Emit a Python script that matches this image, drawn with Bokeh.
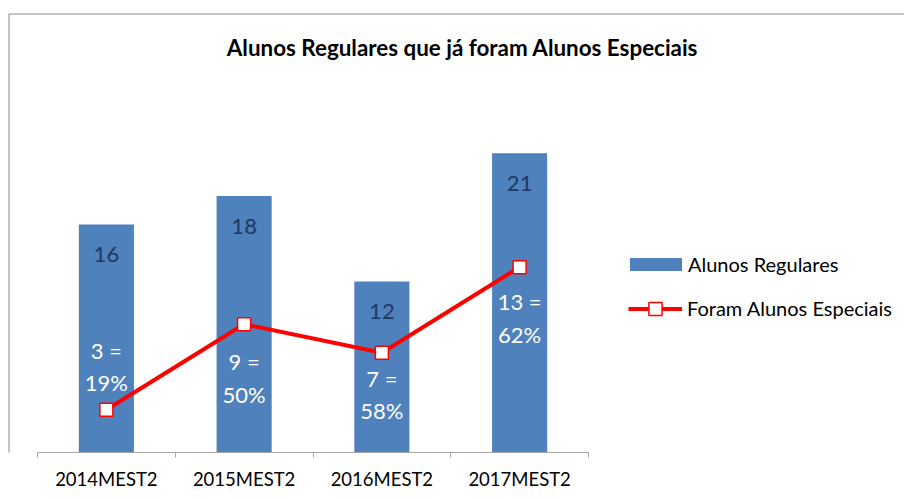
from bokeh.plotting import figure
from bokeh.models import Range1d, FixedTicker, Legend, LegendItem, ColumnDataSource
from bokeh.core.properties import value
from bokeh.embed import file_html
from bokeh.resources import INLINE

# ---------------- data ----------------
categories = ["2014MEST2", "2015MEST2", "2016MEST2", "2017MEST2"]
regulares = [16, 18, 12, 21]
especiais = [3, 9, 7, 13]
title_text = "Alunos Regulares que já foram Alunos Especiais"
legend_labels = ["Alunos Regulares", "Foram Alunos Especiais"]

# ---------------- layout / style ----------------
W, H = 904, 500
AX_L, AX_R = 37, 588        # px span of the category axis
BASE = 452                   # px of value 0
PX_PER_UNIT = 14.25
FONT = "Lato"
BAR_COLOR = "#4F81BD"
LINE_COLOR = "#FF0000"
NAVY = "#1F3864"
GRID_GRAY = "#A6A6A6"
BORDER_GRAY = "#8A8A8A"

n = len(categories)
px_per_cat = (AX_R - AX_L) / n
x_start = -AX_L / px_per_cat
x_end = n + (W - AX_R) / px_per_cat
y_start = 0
y_end = BASE / PX_PER_UNIT


def px_to_x(px):
    return x_start + px / px_per_cat


def px_to_y(py):
    return (BASE - py) / PX_PER_UNIT


xs = [i + 0.5 for i in range(n)]
pct = [round(100 * e / r) for e, r in zip(especiais, regulares)]

# label offsets (screen px, +down) relative to each line point
line1_off = [-59, 37, 26, 34]
line2_off = [-27, 70, 58, 67]

src = ColumnDataSource(dict(
    x=xs,
    reg=regulares,
    esp=especiais,
    reg_txt=[str(v) for v in regulares],
    l1=[f"{e} =" for e in especiais],
    l2=[f"{p}%" for p in pct],
    o1=line1_off,
    o2=line2_off,
))

p = figure(width=W, height=H, output_backend="svg", toolbar_location=None,
           x_range=Range1d(x_start, x_end), y_range=Range1d(y_start, y_end),
           y_axis_location=None, min_border_left=0, min_border_right=0,
           min_border_top=0, min_border_bottom=H - BASE,
           outline_line_color=None, background_fill_color="white",
           border_fill_color="white")
p.grid.visible = False

# axis
ax = p.xaxis[0]
ax.ticker = FixedTicker(ticks=xs, minor_ticks=list(range(n + 1)))
ax.major_label_overrides = {x: c for x, c in zip(xs, categories)}
ax.bounds = (0, n)
ax.axis_line_color = GRID_GRAY
ax.axis_line_width = 1
ax.major_tick_line_color = None
ax.major_tick_out = 0
ax.major_tick_in = 0
ax.minor_tick_line_color = GRID_GRAY
ax.minor_tick_in = 0
ax.minor_tick_out = 5
ax.major_label_standoff = 10
ax.major_label_text_font = FONT
ax.major_label_text_font_size = "18.5px"
ax.major_label_text_color = "#000000"

# chart border (left + top)
bx = px_to_x(8.5)
by = px_to_y(13.5)
p.segment(x0=[bx, bx], y0=[by, by], x1=[bx, x_end], y1=[y_start - 1, by],
          line_color=BORDER_GRAY, line_width=1)

# title
p.text(x=[px_to_x(462)], y=[px_to_y(47)], text=[title_text],
       text_align="center", text_baseline="middle",
       text_font=value(FONT), text_font_style="bold",
       text_font_size="22.4px", text_color="#000000")

# bars
bars = p.vbar(x="x", top="reg", width=0.4, bottom=0, source=src,
              fill_color=BAR_COLOR, line_color=None)

p.text(x="x", y="reg", text="reg_txt", source=src, y_offset=30,
       text_align="center", text_baseline="middle",
       text_font=value(FONT), text_font_size="22px", text_color=NAVY)

# line + markers
ln = p.line(x="x", y="esp", source=src, line_color=LINE_COLOR, line_width=4)
mk = p.scatter(x="x", y="esp", source=src, marker="square", size=13,
               fill_color="white", line_color=LINE_COLOR, line_width=1.5)

p.text(x="x", y="esp", text="l1", source=src, y_offset="o1",
       text_align="center", text_baseline="middle",
       text_font=value(FONT), text_font_size="22px", text_color="white")
p.text(x="x", y="esp", text="l2", source=src, y_offset="o2",
       text_align="center", text_baseline="middle",
       text_font=value(FONT), text_font_size="22px", text_color="white")

legend_style = dict(padding=0, margin=0, label_height=20,
                    border_line_color=None, background_fill_alpha=0,
                    label_text_font=FONT, label_text_font_size="20px",
                    label_text_color="#000000")

legend_bar = Legend(items=[LegendItem(label=legend_labels[0], renderers=[bars])],
                    location=(623, BASE - 276), glyph_width=65, glyph_height=16,
                    label_standoff=0, **legend_style)
legend_line = Legend(items=[LegendItem(label=legend_labels[1], renderers=[ln, mk])],
                     location=(628, BASE - 324.5), glyph_width=54, glyph_height=33,
                     label_standoff=5, **legend_style)
p.add_layout(legend_bar)
p.add_layout(legend_line)

open("out.html", "w").write(file_html(p, INLINE))
